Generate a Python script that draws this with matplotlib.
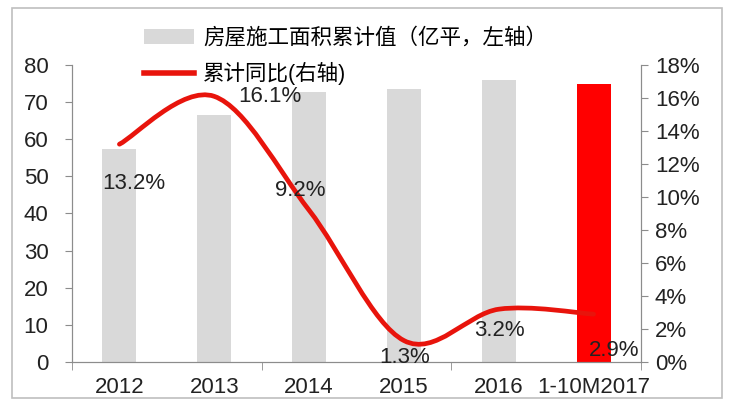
import numpy as np
import matplotlib
matplotlib.use("Agg")
import matplotlib.pyplot as plt
from matplotlib.path import Path
from matplotlib.patches import PathPatch, Patch, Rectangle
from matplotlib.lines import Line2D
from matplotlib.ticker import FuncFormatter, MultipleLocator

plt.rcParams['font.family'] = ['Liberation Sans', 'Noto Sans CJK SC']

# --- data ---
categories = ["2012", "2013", "2014", "2015", "2016", "1-10M2017"]
area = [57.3, 66.6, 72.6, 73.6, 75.9, 75.0]          # 亿平, left axis
yoy = [13.2, 16.1, 9.2, 1.3, 3.2, 2.9]               # %, right axis
bar_colors = ["#d9d9d9"] * 5 + ["#ff0000"]
label_offsets = [(14, -39), (56, 0), (-9, 20), (1, -17), (1, -21), (21, -36)]  # pixels

fig = plt.figure(figsize=(7.32, 4.17), dpi=100)
ax = fig.add_axes([72 / 732, 55 / 417, (641 - 72) / 732, (362 - 65) / 417])
ax2 = ax.twinx()

x = np.arange(len(categories))
ax.bar(x, area, width=0.36, color=bar_colors, zorder=2)
ax.set_xlim(-0.5, len(categories) - 0.5)
ax.set_ylim(0, 80)
ax.yaxis.set_major_locator(MultipleLocator(10))
ax2.set_ylim(0, 18)
ax2.yaxis.set_major_locator(MultipleLocator(2))
ax2.yaxis.set_major_formatter(FuncFormatter(lambda v, p: f"{v:.0f}%"))

ax.set_xticks(x)
ax.set_xticklabels(categories)
ax.set_xticks(np.arange(-0.5, len(categories), 2), minor=True)

for a in (ax, ax2):
    a.spines['top'].set_visible(False)
    for s in ('left', 'right', 'bottom'):
        a.spines[s].set_color('#8c8c8c')
    a.tick_params(axis='both', which='both', colors='#8c8c8c', labelcolor='#222222',
                  labelsize=16, length=5, direction='out')
ax.tick_params(axis='x', which='major', length=0, pad=11)
ax.tick_params(axis='x', which='minor', length=6)
ax.tick_params(axis='y', pad=12)
ax2.tick_params(axis='y', pad=5)

# smoothed line (Excel-style Catmull-Rom bezier through the points)
pts = np.column_stack([x, yoy]).astype(float)
verts = [pts[0]]
codes = [Path.MOVETO]
n = len(pts)
for i in range(n - 1):
    p0 = pts[max(i - 1, 0)]
    p1 = pts[i]
    p2 = pts[i + 1]
    p3 = pts[min(i + 2, n - 1)]
    verts += [p1 + (p2 - p0) / 6, p2 - (p3 - p1) / 6, p2]
    codes += [Path.CURVE4] * 3
line = PathPatch(Path(verts, codes), transform=ax2.transData, facecolor='none',
                 edgecolor='#e8140c', lw=3.4, capstyle='round', joinstyle='round', zorder=3)
ax2.add_patch(line)

for xi, v, (dx, dy) in zip(x, yoy, label_offsets):
    ax2.annotate(f"{v}%", (xi, v), xytext=(dx, dy), textcoords='offset pixels',
                 ha='center', va='center', fontsize=16, color='#222222', zorder=4)

handles = [Patch(facecolor='#d9d9d9', edgecolor='none'),
           Line2D([0], [0], color='#e8140c', lw=4)]
fig.legend(handles, ["房屋施工面积累计值（亿平，左轴）", "累计同比(右轴)"],
           loc='upper left', bbox_to_anchor=(144 / 732, 1 - 28 / 417), frameon=False,
           fontsize=15.5, handlelength=2.3, handletextpad=0.45, labelspacing=0.6,
           borderpad=0, borderaxespad=0)

fig.patches.append(Rectangle((12 / 732, 1 - 398 / 417), (722 - 12) / 732, (398 - 8) / 417,
                             transform=fig.transFigure, fill=False, edgecolor='#bfbfbf', lw=1.2))

fig.savefig("out.png", dpi=100)
